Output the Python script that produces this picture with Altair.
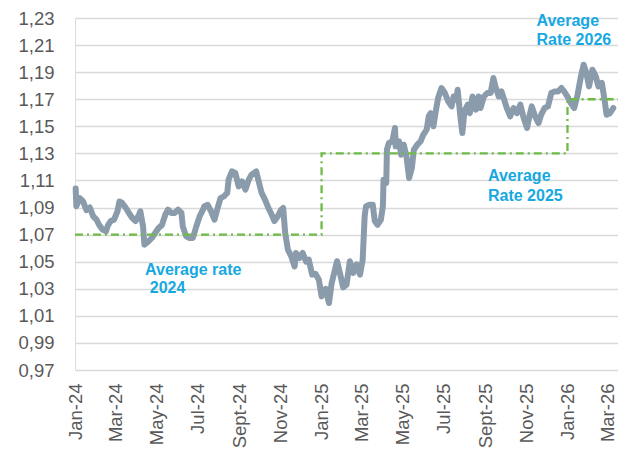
import altair as alt
import pandas as pd

# ---- exchange rate series ----
dates = [
    "2024-01-02", "2024-01-03", "2024-01-08", "2024-01-13", "2024-01-18", "2024-01-23", "2024-01-28",
    "2024-02-02", "2024-02-06", "2024-02-11", "2024-02-16", "2024-02-19", "2024-02-23", "2024-02-28",
    "2024-03-04", "2024-03-07", "2024-03-11", "2024-03-16", "2024-03-21", "2024-03-26", "2024-03-31",
    "2024-04-05", "2024-04-07", "2024-04-11", "2024-04-13", "2024-04-19", "2024-04-24", "2024-04-29",
    "2024-05-04", "2024-05-09", "2024-05-14", "2024-05-18", "2024-05-23", "2024-05-28",
    "2024-06-02", "2024-06-07", "2024-06-09", "2024-06-14", "2024-06-19", "2024-06-24", "2024-06-29",
    "2024-07-04", "2024-07-09", "2024-07-11", "2024-07-16", "2024-07-21", "2024-07-26", "2024-07-30",
    "2024-08-04", "2024-08-09", "2024-08-14", "2024-08-16", "2024-08-21", "2024-08-26", "2024-08-31",
    "2024-09-05", "2024-09-10", "2024-09-15", "2024-09-19", "2024-09-26", "2024-09-29",
    "2024-10-04", "2024-10-09", "2024-10-14", "2024-10-19", "2024-10-23", "2024-10-28",
    "2024-11-02", "2024-11-05", "2024-11-08", "2024-11-12", "2024-11-17", "2024-11-22", "2024-11-24", "2024-11-29",
    "2024-12-04", "2024-12-09", "2024-12-13", "2024-12-18", "2024-12-23", "2024-12-28",
    "2025-01-01", "2025-01-07", "2025-01-12", "2025-01-16", "2025-01-24", "2025-01-29",
    "2025-02-02", "2025-02-07", "2025-02-12", "2025-02-17", "2025-02-22", "2025-02-27",
    "2025-03-03", "2025-03-06", "2025-03-08", "2025-03-13", "2025-03-18", "2025-03-21", "2025-03-25", "2025-03-30",
    "2025-04-02", "2025-04-03", "2025-04-07", "2025-04-08", "2025-04-11", "2025-04-16", "2025-04-20", "2025-04-21",
    "2025-04-26", "2025-04-29",
    "2025-05-03", "2025-05-07", "2025-05-11", "2025-05-15", "2025-05-18", "2025-05-23", "2025-05-28",
    "2025-06-01", "2025-06-06", "2025-06-09", "2025-06-12", "2025-06-16", "2025-06-19", "2025-06-23", "2025-06-28",
    "2025-07-03", "2025-07-08", "2025-07-13", "2025-07-16", "2025-07-20", "2025-07-22", "2025-07-26", "2025-07-29",
    "2025-08-01", "2025-08-06", "2025-08-09", "2025-08-13", "2025-08-18", "2025-08-22", "2025-08-25", "2025-08-30",
    "2025-09-04", "2025-09-09", "2025-09-13", "2025-09-16", "2025-09-21", "2025-09-25", "2025-09-29",
    "2025-10-03", "2025-10-08", "2025-10-13", "2025-10-18", "2025-10-23", "2025-10-28",
    "2025-11-02", "2025-11-06", "2025-11-09", "2025-11-14", "2025-11-19", "2025-11-23", "2025-11-28",
    "2025-12-03", "2025-12-08", "2025-12-13", "2025-12-18", "2025-12-23", "2025-12-27",
    "2026-01-01", "2026-01-06", "2026-01-11", "2026-01-16", "2026-01-21", "2026-01-25", "2026-01-29",
    "2026-02-02", "2026-02-07", "2026-02-12", "2026-02-16", "2026-02-21", "2026-02-25", "2026-02-28",
    "2026-03-05", "2026-03-10",
]
rates = [
    1.104, 1.091, 1.097, 1.0945, 1.088, 1.090, 1.0835,
    1.081, 1.077, 1.0737, 1.0724, 1.077, 1.080, 1.081,
    1.0872, 1.0945, 1.0934, 1.090, 1.086, 1.0823, 1.080,
    1.0847, 1.0872, 1.0762, 1.0626, 1.065, 1.0675, 1.0712,
    1.0749, 1.077, 1.0847, 1.0884, 1.086, 1.086,
    1.0884, 1.086, 1.076, 1.0687, 1.0675, 1.0675, 1.076,
    1.0835, 1.0884, 1.091, 1.092, 1.0872, 1.081, 1.0884,
    1.097, 1.0983, 1.1008, 1.1106, 1.1167, 1.1155, 1.1056,
    1.1093, 1.1032, 1.1106, 1.1143, 1.1167, 1.1106,
    1.1008, 1.0958, 1.0897, 1.0847, 1.080, 1.0835,
    1.0884, 1.0897, 1.0712, 1.0589, 1.054, 1.0465, 1.0564, 1.0527,
    1.0564, 1.050, 1.0515, 1.0404, 1.041, 1.0367,
    1.0244, 1.030, 1.0195, 1.0343, 1.0503, 1.040,
    1.031, 1.033, 1.0503, 1.0417, 1.048, 1.0404,
    1.0515, 1.084, 1.091, 1.092, 1.092, 1.080, 1.0773, 1.081,
    1.091, 1.1106, 1.1082, 1.1327, 1.1377, 1.1389, 1.1488, 1.1352,
    1.1389, 1.129,
    1.1364, 1.1278, 1.1118, 1.1192, 1.1327, 1.1364, 1.1389,
    1.1438, 1.1475, 1.1573, 1.1597, 1.150, 1.1597, 1.1709, 1.1783,
    1.1746, 1.1684, 1.1647, 1.172, 1.1697, 1.177, 1.1573, 1.145,
    1.161, 1.166, 1.1597, 1.172, 1.1623, 1.172, 1.1635, 1.172,
    1.1746, 1.1746, 1.1857, 1.1795, 1.172, 1.1758, 1.1697,
    1.1635, 1.1573, 1.1635, 1.1597, 1.166, 1.1561,
    1.1488, 1.1586, 1.1647, 1.1573, 1.1524, 1.1586, 1.1635,
    1.1647, 1.1746, 1.1758, 1.1758, 1.1783, 1.1758,
    1.172, 1.1672, 1.1635, 1.1734, 1.1869, 1.1955, 1.1894,
    1.1795, 1.1918, 1.1869, 1.1795, 1.182, 1.1697, 1.1586,
    1.1597, 1.1635,
]

# ---- yearly average rates (step line) ----
avg_dates = ["2024-01-01", "2025-01-01", "2026-01-01", "2026-03-17"]
avg_values = [1.07, 1.13, 1.17, 1.17]

# ---- axis ticks ----
y_ticks = [0.97, 0.99, 1.01, 1.03, 1.05, 1.07, 1.09, 1.11, 1.13, 1.15, 1.17, 1.19, 1.21, 1.23]
tick_years = [2024, 2024, 2024, 2024, 2024, 2024, 2025, 2025, 2025, 2025, 2025, 2025, 2026, 2026]
tick_months = [1, 3, 5, 7, 9, 11, 1, 3, 5, 7, 9, 11, 1, 3]
tick_labels = ["Jan-24", "Mar-24", "May-24", "Jul-24", "Sept-24", "Nov-24",
               "Jan-25", "Mar-25", "May-25", "Jul-25", "Sept-25", "Nov-25",
               "Jan-26", "Mar-26"]

# ---- annotations ----
note_texts = ["Average rate", "2024", "Average", "Rate 2025", "Average", "Rate 2026"]
note_dates = ["2024-04-14", "2024-04-21", "2025-09-05", "2025-09-05", "2025-11-16", "2025-11-16"]
note_values = [1.0399, 1.0271, 1.1093, 1.0951, 1.2238, 1.2103]

df = pd.DataFrame({"date": dates, "rate": rates})
avg_df = pd.DataFrame({"date": avg_dates, "rate": avg_values})
notes_df = pd.DataFrame({"date": note_dates, "rate": note_values, "text": note_texts})

FONT = "Liberation Sans, Arial, Helvetica, sans-serif"

label_expr = "''"
for yy, mm, lab in reversed(list(zip(tick_years, tick_months, tick_labels))):
    key = f"{yy}-{mm:02d}"
    label_expr = f"utcFormat(datum.value, '%Y-%m') == '{key}' ? '{lab}' : ({label_expr})"

x_enc = alt.X(
    "date:T",
    scale=alt.Scale(
        type="utc",
        domain=[alt.DateTime(year=2024, month=1, date=1, utc=True),
                alt.DateTime(year=2026, month=3, date=17, utc=True)],
        nice=False,
    ),
    axis=alt.Axis(
        values=[alt.DateTime(year=yy, month=mm, date=1, utc=True) for yy, mm in zip(tick_years, tick_months)],
        labelExpr=label_expr,
        labelAngle=270,
        labelFlush=False,
        labelOverlap=False,
        labelBound=False,
        grid=False,
        domain=False,
        ticks=False,
        tickSize=0,
        labelPadding=13,
        labelFontSize=18.5,
        labelFont=FONT,
        labelColor="#595959",
        title=None,
    ),
)
y_enc = alt.Y(
    "rate:Q",
    scale=alt.Scale(domain=[0.97, 1.23], nice=False, zero=False),
    axis=alt.Axis(
        values=y_ticks,
        labelExpr="replace(format(datum.value, '.2f'), '.', ',')",
        grid=True,
        gridColor="#D9D9D9",
        gridWidth=1.6,
        domain=False,
        ticks=False,
        tickSize=0,
        labelPadding=21,
        labelFontSize=18.5,
        labelFont=FONT,
        labelColor="#595959",
        labelOverlap=False,
        title=None,
    ),
)

line = alt.Chart(df).mark_line(
    color="#8A9BAB", strokeWidth=6, strokeJoin="round", strokeCap="round"
).encode(x=x_enc, y=y_enc)

avg = alt.Chart(avg_df).mark_line(
    interpolate="step-after", color="#6DBB45", strokeWidth=2.3, strokeDash=[8, 4, 2, 4]
).encode(x=x_enc, y=y_enc)

notes = alt.Chart(notes_df).mark_text(
    align="left", baseline="alphabetic", font=FONT, fontSize=16, fontWeight="bold", color="#16A8E1"
).encode(x=x_enc, y=y_enc, text="text:N")

chart = alt.layer(line, avg, notes).properties(
    width=543,
    height=352,
    autosize=alt.AutoSizeParams(type="none"),
    padding={"left": 67, "top": 10, "right": 0, "bottom": 79},
).configure_view(strokeWidth=0).configure(background="white")

chart.save("out.html", embed_options={"renderer": "svg", "actions": False})
